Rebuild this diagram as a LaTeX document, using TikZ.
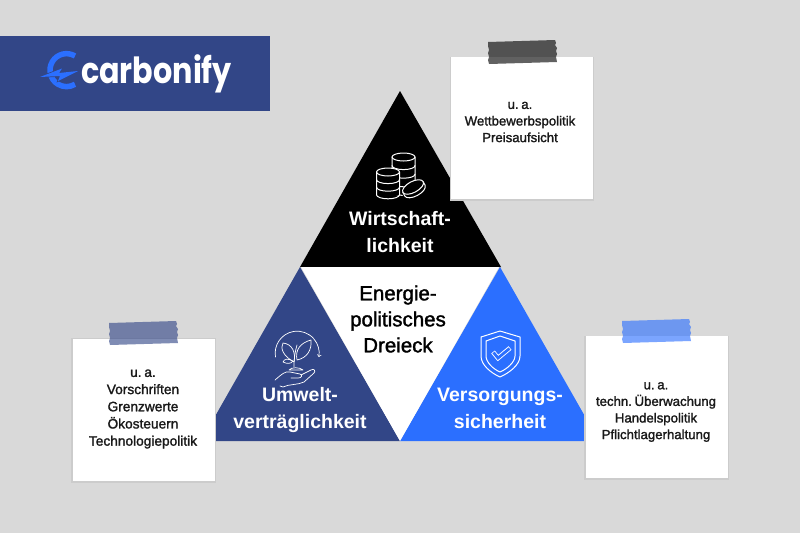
\documentclass[tikz,border=0pt]{standalone}
\usepackage{fontspec}
\setmainfont{Liberation Sans}
\newfontfamily\logofont{Poppins}
\newfontfamily\medfont[FakeBold=1.6]{Liberation Sans}
\definecolor{bggray}{HTML}{D9D9D9}
\definecolor{navyblue}{HTML}{324687}
\definecolor{brightblue}{HTML}{2B6FFF}
\newcommand{\gp}{\hspace{.2em}}
\tikzset{
  notebox/.style={fill=white,draw=none,minimum width=142pt,minimum height=142pt,inner sep=0pt},
  notetext/.style={align=center,font=\medfont\fontsize{13.2}{16.6}\selectfont,text=black!90},
  bigtext/.style={align=center,font=\fontsize{19.5}{27}\selectfont\bfseries,text=white},
  icon/.style={draw=white,line width=1pt,line join=round,line cap=round}
}
% tape strip, frayed at both ends
\newcommand{\tapestrip}[3]{
  \fill [#3,fill opacity=.62] (#1,#2+2) -- (#1+67,#2) -- (#1+68,#2+3) -- (#1+67,#2+5) -- (#1+69,#2+8) -- (#1+68,#2+11)
    -- (#1+69,#2+14) -- (#1+68,#2+17) -- (#1+69,#2+22) -- (#1+1,#2+24) -- (#1,#2+20) -- (#1+1,#2+17)
    -- (#1,#2+13) -- (#1+1,#2+10) -- (#1,#2+6) -- cycle;
}
\begin{document}
\begin{tikzpicture}[x=1pt,y=-1pt]
\useasboundingbox (0,0) rectangle (800,533);
\fill [bggray] (0,0) rectangle (800,533);

% logo banner
\fill [navyblue] (0,36) rectangle (270,111);
\draw [brightblue,line width=5.5pt] (75,56) arc [start angle=-59,end angle=-301,radius=16.5];
\draw [navyblue,line width=1.5pt,fill=brightblue,line join=miter] (40,77) -- (62,68.5) -- (59,73) -- (78,71) -- (58,81) -- (60,76) -- cycle;
\fill [brightblue] (40,77) -- (62,68.5) -- (59,73) -- (78,71) -- (58,81) -- (60,76) -- cycle;
\node (logotext) at (156.5,74) {\scalebox{.84}[1]{\logofont\fontsize{36}{36}\selectfont\bfseries\textcolor{white}{carbonify}}};

% triangle
\fill [black] (400,91) -- (501,267) -- (300,267) -- cycle;
\fill [navyblue] (300,267) -- (400,441) -- (201,441) -- cycle;
\fill [brightblue] (500,267) -- (599,441) -- (400,441) -- cycle;
\fill [white] (301,267) -- (499,267) -- (400,441) -- cycle;

% coins
\foreach \x/\ytop/\n/\h in {403.5/157/4/8.6,388/172/3/7.6} {
  \fill [black] (\x-11.5,\ytop) rectangle (\x+11.5,\ytop+\n*\h);
  \draw [icon,fill=black] (\x,\ytop) ellipse [x radius=11.5,y radius=4];
  \foreach \i in {1,...,\n}
    \draw [icon] (\x-11.5,\ytop+\i*\h-\h) -- (\x-11.5,\ytop+\i*\h) arc [start angle=180,end angle=0,x radius=11.5,y radius=4] -- (\x+11.5,\ytop+\i*\h-\h);
}
\begin{scope}[shift={(413,187)},rotate=28]
  \fill [black] (-13,-1) rectangle (13,9);
  \draw [icon,fill=black] (-11.5,0) -- (-11.5,4) arc [start angle=180,end angle=0,x radius=11.5,y radius=5.5] -- (11.5,0);
  \draw [icon,fill=black] (0,0) ellipse [x radius=11.5,y radius=5.5];
\end{scope}

% plant in a hand
\draw [icon,->,line width=.7pt] (275.5,357) arc [start angle=170,end angle=370,radius=22];
\draw [icon,line width=.7pt] (294,367) .. controls (294,358) and (295,352) .. (297,345);
\draw [icon,line width=.7pt] (294,362) .. controls (283,356) and (280,348) .. (283,343) .. controls (292,344) and (296,352) .. (294,362);
\draw [icon,line width=.7pt] (297,360) .. controls (295,350) and (300,343) .. (311,340) .. controls (312,350) and (307,358) .. (297,360);
\draw [icon,line width=.7pt] (293,361) .. controls (288,358) and (284,359) .. (283,362) .. controls (287,364) and (291,364) .. (293,361);
\draw [icon,line width=.7pt] (289,370) .. controls (291,367) and (300,367) .. (303,370) -- cycle;
\draw [icon,line width=.7pt] (275,380) .. controls (282,374) and (285,371) .. (290,372) -- (300,374) .. controls (303,375) and (302,378) .. (298,378) -- (291,378);
\draw [icon,line width=.7pt] (301,375) -- (311,370) .. controls (314,368) and (316,371) .. (314,373) -- (304,382) .. controls (298,385) and (289,384) .. (283,387) -- (280,386);

% shield
\draw [icon] (500,331) -- (481,337) -- (481,356) .. controls (481,365) and (491,373) .. (500,377)
  .. controls (509,373) and (520,365) .. (520,356) -- (520,337) -- cycle;
\draw [icon] (500,336) -- (486,341) -- (486,356) .. controls (486,362) and (493,369) .. (500,372)
  .. controls (507,369) and (515,362) .. (515,356) -- (515,341) -- cycle;
\draw [white,line width=4.6pt,line join=miter] (493,352) -- (498,358) -- (510,348);
\draw [brightblue,line width=2.8pt,line join=miter] (493.5,352.5) -- (498,358) -- (509.5,348.5);

% labels
\node [bigtext] (wirtschaft) at (400,232.5) {Wirtschaft-\\lichkeit};
\node [bigtext] (umwelt) at (300,409.5) {Umwelt-\\verträglichkeit};
\node [bigtext] (versorgung) at (500,408) {Versorgungs-\\sicherheit};
\node [text=black,align=center,font=\medfont\fontsize{20.5}{26}\selectfont] (dreieck) at (398,319) {Energie-\\politisches\\Dreieck};

% notes
\fill [black!20] (450,57) rectangle (594,200.5);
\fill [black!20] (71,338) rectangle (216,482.5);
\fill [black!20] (584,336) rectangle (729,479.5);
\node [notebox] (notetop) at (522,128) {};
\node [notebox] (noteleft) at (143.5,409.5) {};
\node [notebox] (noteright) at (656.5,407) {};
\tapestrip{488}{40}{black}
\tapestrip{109}{321}{navyblue}
\tapestrip{622}{319}{brightblue}
\node [notetext] (texttop) at (520,122) {u.\gp a.\\Wettbewerbspolitik\\Preisaufsicht};
\node [notetext,font=\medfont\fontsize{13.7}{17.2}\selectfont] (textleft) at (143,409) {u.\gp a.\\Vorschriften\\Grenzwerte\\Ökosteuern\\Technologiepolitik};
\node [notetext] (textright) at (656,412) {u.\gp a.\\techn.\gp Überwachung\\Handelspolitik\\Pflichtlagerhaltung};
\end{tikzpicture}
\end{document}
